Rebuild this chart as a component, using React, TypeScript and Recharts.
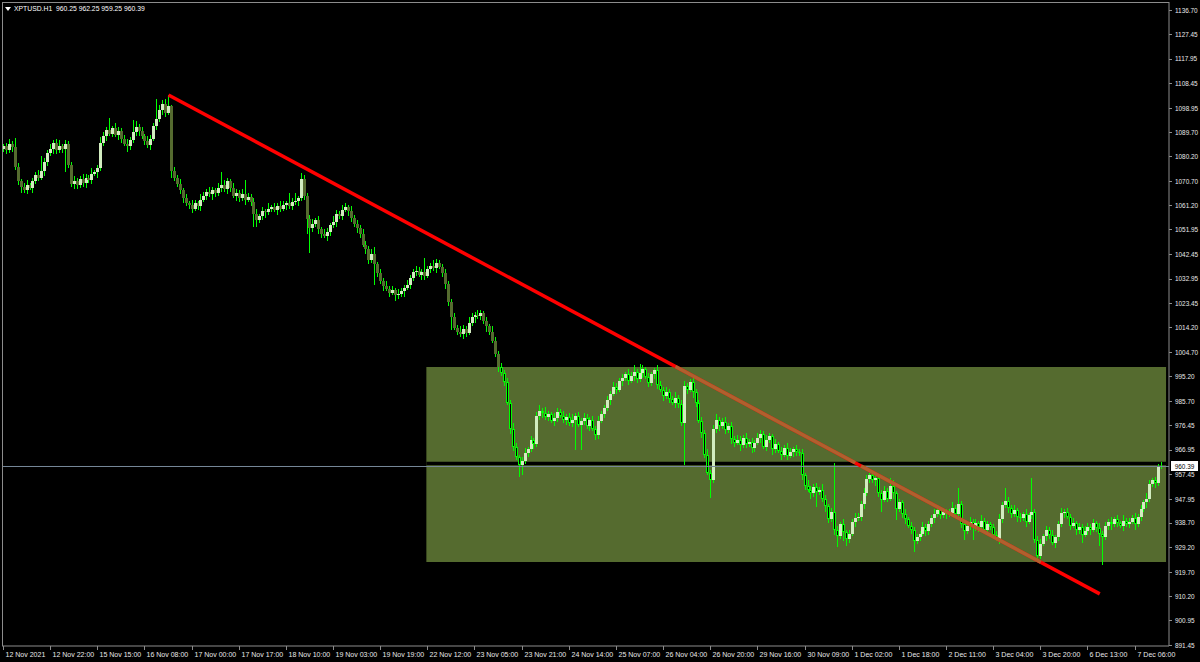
import React from 'react';
import { ComposedChart, Bar, XAxis, YAxis, ReferenceLine, ReferenceArea } from 'recharts';

// ---------- data ----------
const SYMBOL_TITLE = 'XPTUSD.H1';
const LAST_OHLC = ['960.25', '962.25', '959.25', '960.39'];
const FIRST_OPEN = 1083.0;

const CLOSES = [
  1084.0, 1082.5, 1085.0, 1083.8, 1076.0, 1070.5, 1068.5, 1067.0, 1069.0, 1068.0,
  1070.5, 1073.0, 1072.0, 1074.5, 1078.0, 1081.5, 1083.0, 1085.5, 1082.5, 1084.0,
  1083.0, 1085.0, 1077.0, 1069.5, 1070.5, 1069.0, 1071.5, 1070.0, 1072.0, 1071.0,
  1073.5, 1074.0, 1075.5, 1085.5, 1088.0, 1090.5, 1089.0, 1091.0, 1088.5, 1090.0,
  1087.0, 1085.0, 1084.0, 1086.5, 1089.5, 1091.5, 1090.0, 1088.0, 1086.0, 1084.5,
  1087.0, 1092.0, 1094.5, 1098.0, 1100.5, 1097.0, 1099.5, 1074.5, 1072.0, 1069.5,
  1067.0, 1064.0, 1062.0, 1061.5, 1060.0, 1062.0, 1061.0, 1063.5, 1065.0, 1066.5,
  1065.5, 1067.0, 1066.0, 1068.0, 1069.0, 1067.5, 1070.5, 1068.0, 1065.0, 1066.0,
  1064.0, 1065.5, 1063.5, 1064.5, 1062.5, 1058.0, 1055.5, 1057.0, 1059.0, 1058.5,
  1060.0, 1060.5, 1059.5, 1061.0, 1060.0, 1061.5, 1062.0, 1061.0, 1062.5, 1063.0,
  1064.0, 1071.5, 1065.0, 1056.0, 1052.5, 1054.0, 1055.5, 1052.0, 1050.0, 1049.5,
  1051.0, 1053.5, 1055.0, 1058.0, 1057.0, 1059.5, 1060.5, 1059.0, 1056.5, 1054.0,
  1052.5, 1050.0, 1046.0, 1044.5, 1040.0, 1042.5, 1038.5, 1035.0, 1032.0, 1030.0,
  1029.0, 1027.5, 1028.5, 1026.5, 1027.0, 1028.0, 1029.5, 1030.5, 1033.0, 1035.5,
  1036.0, 1034.5, 1035.5, 1034.0, 1036.5, 1038.0, 1037.0, 1039.0, 1037.5, 1035.0,
  1031.0, 1024.0, 1018.0, 1014.0, 1012.5, 1011.5, 1013.5, 1012.0, 1016.0, 1018.0,
  1019.0, 1018.5, 1019.5, 1016.5, 1014.5, 1012.5, 1009.0, 1004.0, 999.0, 996.5,
  993.0, 985.0, 975.0, 968.0, 964.0, 961.0, 962.5, 965.5, 967.0, 970.5,
  969.0, 980.0, 982.0, 981.0, 979.5, 980.5, 978.0, 979.0, 981.5, 980.0,
  978.5, 979.5, 977.0, 978.5, 980.0, 976.5, 978.0, 979.0, 976.0, 978.5,
  975.0, 972.5, 978.0, 980.5, 983.0, 986.0, 988.5, 991.0, 990.0, 993.5,
  994.5, 996.0, 993.5, 995.5, 997.0, 994.0, 996.5, 998.0, 995.0, 992.5,
  996.0, 997.5, 992.0, 990.0, 987.5, 989.0, 986.5, 985.0, 987.0, 984.5,
  977.0, 991.5, 990.0, 993.0, 989.0, 985.0, 978.0, 973.5, 965.0, 958.0,
  955.0, 975.0, 978.5, 976.0, 977.5, 974.5, 976.0, 971.0, 969.5, 970.5,
  968.5, 971.5, 969.0, 970.0, 967.5, 969.5, 971.5, 973.0, 968.0, 970.5,
  972.0, 967.0, 969.0, 966.5, 965.0, 967.5, 964.5, 966.0, 967.0, 966.0,
  965.5, 957.0, 953.0, 951.5, 950.0, 952.5, 950.5, 951.5, 948.0, 945.0,
  940.0, 943.0, 936.0, 933.5, 938.0, 935.0, 932.5, 934.5, 939.0, 940.5,
  941.0, 946.0, 950.0, 955.5, 957.0, 955.0, 956.0, 950.0, 947.5, 951.0,
  948.0, 953.0, 950.0, 944.0, 946.5, 942.0, 940.0, 937.5, 936.0, 931.5,
  933.0, 934.5, 937.0, 935.5, 938.0, 940.5, 942.0, 943.5, 941.5, 943.0,
  942.0, 942.5, 944.5, 942.0, 946.0, 938.0, 935.5, 937.5, 939.0, 936.5,
  938.5, 937.0, 939.5, 936.0, 938.0, 937.0, 934.0, 932.5, 940.0, 945.5,
  947.0, 944.5, 942.0, 943.5, 941.0, 940.5, 942.0, 939.0, 941.5, 943.0,
  932.0, 926.0, 930.5, 933.5, 936.0, 934.0, 931.0, 933.0, 938.0, 942.5,
  943.0, 941.0, 937.5, 938.5, 936.0, 937.0, 934.0, 935.5, 937.0, 936.0,
  938.5, 936.5, 934.5, 933.0, 937.5, 939.0, 938.0, 940.0, 938.5, 937.5,
  939.5, 938.0, 939.0, 940.5, 938.0, 941.0, 944.0, 946.5, 948.0, 953.5,
  955.0, 954.0, 960.25, 960.39,
];

const UPPER_WICKS = [
  1.0, 1.5, 2.0, 1.0, 3.5, 1.5, 1.0, 1.5, 2.0, 1.0,
  1.5, 1.0, 2.0, 6.0, 1.5, 1.0, 2.0, 1.0, 1.5, 2.5,
  1.0, 1.5, 1.0, 1.0, 2.0, 1.5, 1.0, 2.0, 1.5, 1.0,
  2.0, 1.0, 1.5, 2.0, 1.5, 1.0, 4.5, 1.0, 2.0, 1.5,
  1.0, 1.5, 2.0, 1.0, 4.7, 2.5, 1.0, 1.5, 1.0, 2.0,
  1.5, 1.0, 8.0, 2.0, 1.5, 2.0, 4.4, 0.5, 1.5, 1.0,
  2.0, 1.0, 1.5, 1.0, 2.0, 1.5, 1.0, 2.0, 1.5, 1.0,
  2.0, 1.5, 1.0, 2.0, 5.0, 2.0, 1.5, 1.0, 2.0, 1.5,
  1.0, 2.0, 5.5, 1.5, 1.0, 1.5, 2.0, 1.0, 1.5, 1.0,
  2.0, 1.0, 1.5, 1.0, 2.0, 1.5, 1.0, 4.0, 1.5, 3.0,
  1.0, 2.2, 1.5, 1.0, 1.5, 2.0, 1.0, 1.5, 1.0, 2.0,
  1.5, 1.0, 2.0, 1.5, 1.0, 2.0, 1.5, 1.0, 2.0, 1.0,
  1.5, 1.0, 2.0, 1.5, 1.0, 2.0, 2.7, 1.0, 1.5, 1.0,
  2.0, 1.0, 1.5, 1.0, 2.0, 1.5, 1.0, 2.0, 1.5, 1.0,
  2.0, 1.5, 1.0, 5.5, 1.5, 1.0, 2.0, 1.5, 1.2, 1.0,
  1.5, 1.0, 1.0, 1.5, 1.0, 2.0, 1.5, 1.0, 2.0, 1.5,
  1.0, 2.0, 1.5, 1.0, 1.5, 1.0, 2.0, 1.5, 1.0, 1.5,
  1.0, 1.5, 1.0, 2.0, 1.5, 1.0, 1.5, 2.0, 1.0, 1.5,
  1.0, 1.5, 2.0, 1.0, 2.5, 1.5, 1.0, 2.0, 1.5, 1.0,
  2.0, 1.0, 1.5, 2.0, 1.0, 1.5, 1.0, 2.0, 1.5, 1.0,
  1.5, 1.0, 2.0, 1.5, 1.0, 1.5, 1.0, 2.0, 1.5, 1.0,
  1.5, 1.0, 2.0, 1.5, 2.6, 1.0, 3.5, 1.6, 1.0, 1.5,
  1.0, 1.0, 2.0, 1.5, 1.0, 2.0, 1.5, 1.0, 2.0, 1.0,
  1.5, 2.0, 1.0, 1.0, 2.0, 1.5, 1.0, 1.5, 1.0, 2.0,
  1.0, 1.5, 2.0, 1.0, 1.5, 2.0, 1.0, 1.5, 1.0, 2.0,
  1.5, 1.0, 2.0, 1.0, 1.5, 1.0, 2.0, 1.5, 1.0, 2.0,
  1.5, 1.0, 2.0, 1.0, 1.5, 1.0, 2.0, 1.5, 1.0, 1.5,
  1.0, 1.5, 1.0, 2.0, 1.5, 1.0, 1.5, 1.0, 2.0, 1.5,
  1.0, 1.5, 18.8, 1.5, 1.0, 2.0, 1.0, 1.5, 1.0, 2.0,
  1.5, 1.0, 2.0, 1.5, 1.0, 2.0, 1.5, 1.0, 1.5, 2.0,
  1.0, 3.0, 2.0, 1.0, 1.5, 1.0, 2.0, 1.0, 1.5, 1.0,
  1.5, 1.0, 2.0, 1.0, 1.5, 1.0, 2.0, 1.5, 1.0, 1.5,
  1.0, 1.5, 2.0, 1.0, 6.0, 1.0, 1.5, 1.0, 2.0, 1.0,
  1.5, 1.0, 2.0, 1.0, 1.5, 1.0, 1.0, 1.5, 2.0, 1.0,
  5.0, 1.5, 1.0, 2.0, 1.0, 1.5, 1.0, 2.0, 1.0, 12.9,
  1.0, 1.5, 2.0, 1.0, 1.5, 1.0, 2.0, 1.0, 1.5, 2.0,
  1.0, 1.5, 1.0, 2.0, 1.0, 1.5, 1.0, 2.0, 1.5, 1.0,
  1.5, 1.0, 2.0, 1.0, 1.5, 1.0, 2.0, 1.0, 1.5, 1.0,
  2.0, 1.0, 1.5, 1.0, 2.0, 1.0, 1.5, 1.0, 2.0, 1.5,
  1.0, 1.5, 1.0, 1.86,
];

const LOWER_WICKS = [
  1.0, 1.5, 1.0, 2.0, 1.0, 1.5, 2.5, 1.0, 1.5, 1.0,
  2.0, 1.0, 1.5, 1.0, 2.0, 1.5, 1.0, 2.0, 1.5, 1.0,
  1.5, 9.0, 1.5, 1.0, 2.0, 1.5, 1.0, 1.5, 2.0, 1.0,
  1.5, 1.0, 2.0, 1.0, 1.5, 2.0, 1.0, 1.5, 1.0, 2.0,
  1.5, 1.0, 2.0, 1.5, 1.0, 1.5, 2.0, 1.0, 1.5, 1.0,
  2.0, 1.0, 1.5, 1.0, 2.0, 1.5, 1.0, 2.5, 1.5, 1.0,
  1.5, 2.0, 1.0, 1.5, 1.7, 1.0, 1.5, 2.0, 1.0, 1.5,
  1.0, 2.0, 1.5, 1.0, 1.5, 1.0, 2.0, 1.5, 1.0, 2.0,
  1.5, 1.0, 2.0, 1.0, 1.5, 5.0, 2.5, 1.0, 1.5, 2.0,
  1.0, 1.5, 1.0, 2.0, 1.5, 1.0, 2.0, 1.0, 1.5, 1.0,
  2.0, 1.0, 1.5, 6.0, 9.5, 1.5, 1.0, 2.0, 1.5, 1.0,
  2.0, 1.5, 1.0, 2.0, 1.0, 1.5, 1.0, 2.0, 1.5, 1.0,
  2.0, 1.5, 1.0, 2.0, 1.5, 1.0, 8.0, 1.5, 1.0, 2.0,
  1.0, 1.5, 1.0, 2.0, 1.5, 1.0, 2.0, 1.0, 1.5, 1.0,
  1.5, 1.0, 2.0, 1.5, 1.0, 1.5, 1.0, 2.0, 1.0, 1.5,
  2.0, 1.5, 5.0, 1.0, 1.5, 1.0, 2.0, 1.5, 1.0, 1.5,
  2.0, 1.0, 1.5, 1.0, 2.0, 1.5, 1.0, 1.5, 2.0, 1.0,
  1.5, 1.0, 2.0, 1.5, 1.0, 4.6, 4.0, 1.0, 1.5, 1.0,
  2.0, 1.0, 1.5, 2.0, 1.0, 1.5, 1.0, 2.0, 1.5, 1.0,
  1.5, 2.0, 1.0, 1.5, 11.7, 1.0, 9.7, 1.5, 1.0, 2.0,
  1.0, 2.0, 1.5, 1.0, 1.5, 1.0, 2.0, 1.0, 1.5, 1.0,
  2.0, 1.0, 1.5, 1.0, 2.0, 1.5, 1.0, 2.0, 1.0, 1.5,
  1.0, 2.0, 1.5, 1.0, 2.0, 1.0, 1.5, 1.0, 2.0, 1.5,
  1.0, 16.0, 1.5, 1.0, 2.0, 1.5, 1.0, 2.0, 1.5, 1.0,
  6.8, 1.0, 1.5, 2.0, 1.0, 1.5, 1.0, 2.0, 1.5, 1.0,
  2.0, 1.0, 1.5, 1.0, 2.0, 1.5, 1.0, 2.0, 1.0, 1.5,
  1.0, 2.0, 1.5, 1.0, 2.0, 1.0, 1.5, 1.0, 2.0, 1.5,
  1.0, 2.0, 1.5, 1.0, 2.0, 1.5, 5.7, 1.0, 1.5, 2.0,
  1.5, 1.0, 2.0, 4.2, 1.0, 3.2, 3.0, 1.5, 1.0, 2.0,
  1.0, 1.5, 2.0, 1.0, 1.5, 1.0, 2.0, 1.5, 4.7, 1.0,
  1.5, 1.0, 2.0, 4.4, 1.0, 1.5, 2.0, 1.0, 1.5, 4.0,
  1.0, 1.5, 1.0, 2.0, 1.5, 1.0, 2.0, 1.0, 1.5, 1.0,
  2.0, 1.0, 1.5, 1.0, 2.0, 1.5, 3.5, 1.0, 1.5, 4.5,
  1.0, 2.0, 1.5, 1.0, 2.0, 1.0, 1.5, 1.0, 2.0, 1.5,
  1.0, 2.0, 1.5, 1.0, 2.0, 1.5, 1.0, 2.0, 1.0, 1.5,
  1.0, 2.0, 1.5, 1.0, 2.0, 1.5, 1.0, 2.0, 1.5, 1.0,
  2.0, 1.0, 1.5, 1.0, 2.0, 1.5, 3.0, 1.0, 1.5, 2.0,
  1.0, 1.5, 5.0, 10.6, 1.0, 1.5, 2.0, 1.0, 1.5, 1.0,
  2.0, 1.0, 1.5, 1.0, 2.0, 1.0, 1.5, 1.0, 2.0, 1.5,
  1.0, 2.0, 1.0, 1.0,
];

const X_LABELS = [
  '12 Nov 2021', '12 Nov 22:00', '15 Nov 15:00', '16 Nov 08:00', '17 Nov 00:00',
  '17 Nov 17:00', '18 Nov 10:00', '19 Nov 03:00', '19 Nov 19:00', '22 Nov 12:00',
  '23 Nov 05:00', '23 Nov 21:00', '24 Nov 14:00', '25 Nov 07:00', '26 Nov 04:00',
  '26 Nov 20:00', '29 Nov 16:00', '30 Nov 09:00', '1 Dec 02:00', '1 Dec 18:00',
  '2 Dec 11:00', '3 Dec 04:00', '3 Dec 20:00', '6 Dec 13:00', '7 Dec 06:00',
];
const X_LABEL_STEP = 16; // bars between time labels

const Y_TICKS = [
  1136.70, 1127.45, 1117.95, 1108.45, 1098.95, 1089.70, 1080.20, 1070.70, 1061.20,
  1051.95, 1042.45, 1032.95, 1023.45, 1014.20, 1004.70, 995.20, 985.70, 976.45,
  966.95, 957.45, 947.95, 938.70, 929.20, 919.70, 910.20, 900.95, 891.45,
];
const Y_DOMAIN: [number, number] = [891.06, 1139.79];

const ZONE = { fromBar: 144, toBar: 394, low: 923.5, high: 998.8 };
const TREND = { fromBar: 56, fromPrice: 1103.9, toBar: 372, toPrice: 911.2 };
const CURRENT_PRICE = 960.39;
const PRICE_GAP = { low: 960.9, high: 962.2 };
const PAD_BARS = 2;

// ---------- styles ----------
const FONT = "'Liberation Sans', Arial, sans-serif";
const Y_SQUEEZE = 0.8;
const X_SQUEEZE = 0.88;
const AXIS_COLOR = '#8c8c8c';
const TEXT_COLOR = '#e8e8e8';
const WICK = '#00ff00';
const BULL_BODY = '#d2ecc0';
const BEAR_BODY = '#556b2f';
const ZONE_FILL = '#556b2f';
const TREND_RED = '#ff0000';
const TREND_IN_ZONE = '#b0602e';

// ---------- build table ----------
type Row = { i: number; open?: number; close?: number; high?: number; low?: number; range: [number, number] | null };
const rows: Row[] = [];
{
  let prev = FIRST_OPEN;
  CLOSES.forEach((c, i) => {
    const open = prev;
    const high = Math.max(open, c) + UPPER_WICKS[i];
    const low = Math.min(open, c) - LOWER_WICKS[i];
    rows.push({ i, open, close: c, high, low, range: [low, high] });
    prev = c;
  });
  for (let p = 0; p < PAD_BARS; p++) rows.push({ i: CLOSES.length + p, range: null });
}
const X_TICKS = X_LABELS.map((_, k) => k * X_LABEL_STEP);

const trendAt = (bar: number) =>
  TREND.fromPrice + ((bar - TREND.fromBar) * (TREND.toPrice - TREND.fromPrice)) / (TREND.toBar - TREND.fromBar);

// ---------- shapes ----------
const Candle = (props: any) => {
  const { x, y, width, height, payload } = props;
  if (!payload || !payload.range || x == null || y == null || height == null) return null;
  const { open, close, high, low, i } = payload;
  const top = Math.min(y, y + height);
  const h = Math.abs(height);
  const k = high - low > 0 ? h / (high - low) : 0;
  const py = (v: number) => top + (high - v) * k;
  const cx = Math.floor(x + width / 2) + 0.5;
  const yHigh = Math.round(top);
  const yLow = Math.max(yHigh + 1, Math.round(top + h));
  const bTop = Math.round(py(Math.max(open, close)));
  const bBot = Math.max(bTop + 1, Math.round(py(Math.min(open, close))));
  const bull = close > open;
  const mid = (open + close) / 2;
  const inZone = i >= ZONE.fromBar && mid >= ZONE.low && mid <= ZONE.high;
  let body;
  if (bull) {
    body = <rect x={cx - 1.5} y={bTop} width={3} height={bBot - bTop} fill={BULL_BODY} />;
  } else if (inZone && bBot - bTop > 2) {
    body = <rect x={cx - 1} y={bTop + 0.5} width={2} height={bBot - bTop - 1} fill="#000" stroke={WICK} strokeWidth={1} />;
  } else {
    body = <rect x={cx - 1.5} y={bTop} width={3} height={bBot - bTop} fill={inZone ? WICK : BEAR_BODY} />;
  }
  return (
    <g shapeRendering="crispEdges">
      <line x1={cx} x2={cx} y1={yHigh} y2={yLow} stroke={WICK} strokeWidth={1} />
      {body}
    </g>
  );
};

const SmallText = ({ x, y, children, fill = TEXT_COLOR, anchor = 'start', squeeze = Y_SQUEEZE }: any) => (
  <text
    transform={`translate(${x},${y}) scale(${squeeze},1)`}
    dy="0.35em"
    fill={fill}
    fontSize={8}
    fontFamily={FONT}
    textAnchor={anchor}
  >
    {children}
  </text>
);

const YTick = (props: any) => {
  const { x, y, payload } = props;
  const ly = Math.round(y) + 0.5;
  return (
    <g>
      <line x1={x} x2={x + 3} y1={ly} y2={ly} stroke={AXIS_COLOR} shapeRendering="crispEdges" />
      <SmallText x={x + 6} y={y}>{Number(payload.value).toFixed(2)}</SmallText>
    </g>
  );
};

const XTick = (props: any) => {
  const { x, y, payload } = props;
  const label = X_LABELS[Math.round(payload.value / X_LABEL_STEP)];
  const lx = Math.floor(x) + 0.5;
  return (
    <g>
      <line x1={lx} x2={lx} y1={y} y2={y + 4} stroke={AXIS_COLOR} shapeRendering="crispEdges" />
      <SmallText x={lx + 2} y={y + 8.5} squeeze={X_SQUEEZE}>{label}</SmallText>
    </g>
  );
};

const PriceTag = (props: any) => {
  const vb = props.viewBox || {};
  const x0 = (vb.x ?? 0) + (vb.width ?? 0) + 2;
  const y0 = Math.round(vb.y ?? 0);
  return (
    <g>
      <rect x={x0} y={y0 - 5} width={27} height={10} fill="#ffffff" shapeRendering="crispEdges" />
      <SmallText x={x0 + 13.5} y={y0} fill="#000" anchor="middle">{CURRENT_PRICE.toFixed(2)}</SmallText>
    </g>
  );
};

export default function App() {
  const brown1 = [ZONE.fromBar + 84, 289];
  const brown2 = [291, 352];
  return (
    <div style={{ position: 'absolute', left: 0, top: 0, width: 1200, height: 662, background: '#000', overflow: 'hidden' }}>
      <ComposedChart
        width={1200}
        height={662}
        data={rows}
        margin={{ top: 2, right: 0, bottom: 0, left: 2 }}
        barCategoryGap={0}
        barGap={0}
      >
        <XAxis
          dataKey="i"
          type="category"
          height={16}
          ticks={X_TICKS}
          interval={0}
          tick={<XTick />}
          tickLine={false}
          tickSize={0}
          tickMargin={0}
          axisLine={{ stroke: AXIS_COLOR }}
        />
        <YAxis
          orientation="right"
          width={31}
          type="number"
          domain={Y_DOMAIN}
          allowDataOverflow
          ticks={Y_TICKS}
          interval={0}
          tick={<YTick />}
          tickLine={false}
          tickSize={0}
          tickMargin={0}
          axisLine={{ stroke: AXIS_COLOR }}
        />
        <ReferenceArea x1={ZONE.fromBar} x2={ZONE.toBar} y1={ZONE.low} y2={ZONE.high} fill={ZONE_FILL} fillOpacity={1} stroke="none" />
        <ReferenceArea x1={ZONE.fromBar} x2={ZONE.toBar} y1={PRICE_GAP.low} y2={PRICE_GAP.high} fill="#000" fillOpacity={1} stroke="none" />
        <Bar dataKey="range" shape={<Candle />} isAnimationActive={false} />
        <ReferenceLine y={CURRENT_PRICE} stroke="#778899" strokeWidth={1} label={<PriceTag />} />
        <ReferenceLine
          segment={[{ x: TREND.fromBar, y: TREND.fromPrice }, { x: TREND.toBar, y: TREND.toPrice }]}
          stroke={TREND_RED}
          strokeWidth={3.5}
        />
        <ReferenceLine
          segment={[{ x: brown1[0], y: trendAt(brown1[0]) }, { x: brown1[1], y: trendAt(brown1[1]) }]}
          stroke={TREND_IN_ZONE}
          strokeWidth={3.5}
        />
        <ReferenceLine
          segment={[{ x: brown2[0], y: trendAt(brown2[0]) }, { x: brown2[1], y: trendAt(brown2[1]) }]}
          stroke={TREND_IN_ZONE}
          strokeWidth={3.5}
        />
      </ComposedChart>
      <div style={{ position: 'absolute', left: 2, top: 2, width: 1167, height: 1, background: AXIS_COLOR }} />
      <div style={{ position: 'absolute', left: 2, top: 2, width: 1, height: 644, background: AXIS_COLOR }} />
      <div style={{ position: 'absolute', left: 5, top: 4, display: 'flex', alignItems: 'center', gap: 3, color: '#ffffff', fontFamily: FONT, fontSize: 8, lineHeight: '10px', whiteSpace: 'pre' }}>
        <svg width={6} height={5} style={{ display: 'block' }}>
          <polygon points="0,0 6,0 3,4" fill="#ffffff" />
        </svg>
        <span style={{ display: 'inline-block', transform: 'scaleX(0.85)', transformOrigin: 'left center' }}>
          {`${SYMBOL_TITLE}  ${LAST_OHLC.join(' ')}`}
        </span>
      </div>
    </div>
  );
}
